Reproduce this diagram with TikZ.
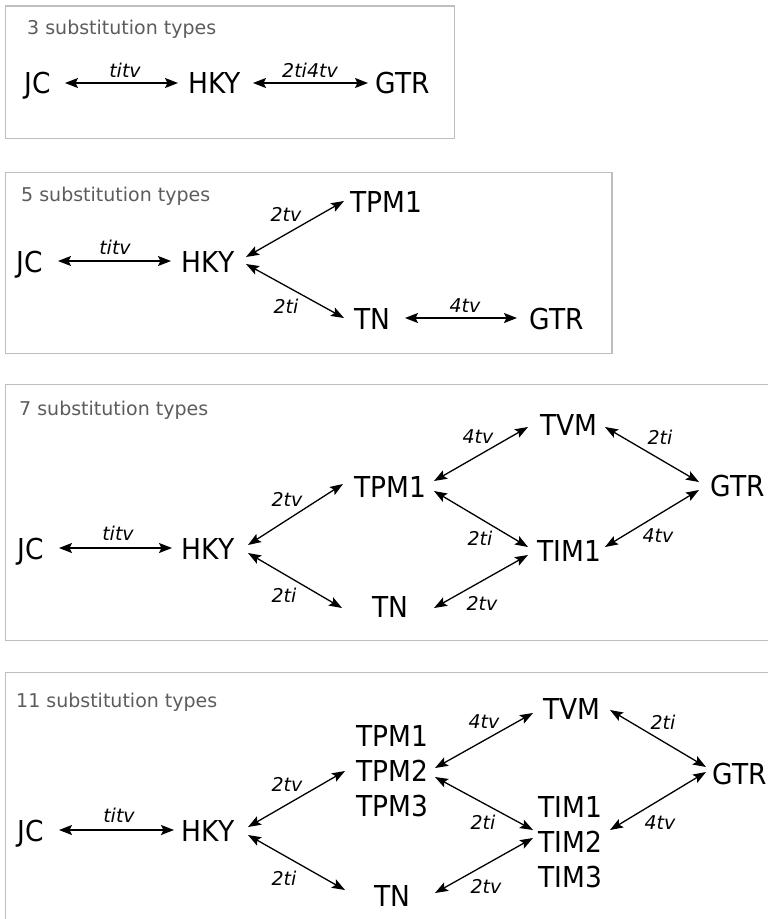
\documentclass[tikz,border=0pt]{standalone}
\usepackage{fontspec}
\setmainfont{DejaVu Sans}
\newfontfamily\modelfont[FakeStretch=0.92]{DejaVu Sans}
\usetikzlibrary{arrows.meta,calc}
\definecolor{framegray}{HTML}{BEBEBE}
\definecolor{titlegray}{HTML}{5C5C5C}
\tikzset{
  panel/.style={draw=framegray, line width=1.5pt},
  model/.style={inner sep=0pt, text height=21pt, text depth=0pt,
    font=\modelfont\fontsize{28.8}{31}\selectfont},
  ptitle/.style={anchor=base west, inner sep=0pt, text=titlegray,
    font=\fontsize{19}{22}\selectfont},
  lbl/.style={inner sep=0pt, font=\fontsize{19}{21}\selectfont\itshape},
  harr/.style={{Stealth[length=13pt,width=10pt,inset=2.5pt]}-{Stealth[length=13pt,width=10pt,inset=2.5pt]}, line width=1.8pt},
  darr/.style={{Stealth[length=13pt,width=9.5pt,inset=2.5pt]}-{Stealth[length=13pt,width=9.5pt,inset=2.5pt]}, line width=1.3pt},
}
\begin{document}
\begin{tikzpicture}[x=1pt, y=-1pt]
\useasboundingbox (0,0) rectangle (768,919);
\clip (0,0) rectangle (768,919);

% ---- frames ----
\draw[panel] (5.5,6) rectangle (454.5,138.5);
\draw[panel] (5.5,172.3) rectangle (612,353.3);
\draw[panel] (5.5,384.7) rectangle (790,640.7);
\draw[panel] (5.5,672.7) rectangle (790,960);

% ---- 3 substitution types ----
\node[ptitle] (t1) at (27,34) {3 substitution types};
\node[model] (jc1) at (37.5,83) {JC};
\node[model] (hky1) at (214.5,83) {HKY};
\node[model] (gtr1) at (403,83) {GTR};
\draw[harr] ($(jc1)+(27.5,0)$) -- ($(hky1)+(-36.5,0)$);
\draw[harr] ($(hky1)+(38.5,0)$) -- ($(gtr1)+(-35,0)$);
\node[lbl] (l1a) at (125,70) {titv};
\node[lbl] (l1b) at (310,70) {2ti4tv};

% ---- 5 substitution types ----
\node[ptitle] (t2) at (21,201) {5 substitution types};
\node[model] (jc2) at (29.5,262) {JC};
\node[model] (hky2) at (208,262) {HKY};
\node[model] (tpm2) at (386.5,202) {TPM1};
\node[model] (tn2) at (372.5,319) {TN};
\node[model] (gtr2) at (556.5,319) {GTR};
\draw[harr] ($(jc2)+(28.5,-1)$) -- ($(hky2)+(-37,-1)$);
\draw[darr] ($(hky2)+(38,-5)$) -- ($(tpm2)+(-42.5,-1)$);
\draw[darr] ($(hky2)+(38,2)$) -- ($(tn2)+(-28.5,-1)$);
\draw[harr] ($(tn2)+(32.5,-1)$) -- ($(gtr2)+(-39.5,-1)$);
\node[lbl] (l2a) at (115,247) {titv};
\node[lbl] (l2b) at (286,214) {2tv};
\node[lbl] (l2c) at (286,306) {2ti};
\node[lbl] (l2d) at (465,306) {4tv};

% ---- 7 substitution types ----
\node[ptitle] (t3) at (19,415) {7 substitution types};
\node[model] (jc3) at (31,549) {JC};
\node[model] (hky3) at (208,549) {HKY};
\node[model] (tpm3) at (390,487) {TPM1};
\node[model] (tn3) at (390,607) {TN};
\node[model] (tvm3) at (569,425) {TVM};
\node[model] (tim3) at (569,551) {TIM1};
\node[model] (gtr3) at (738,486) {GTR};
\draw[harr] ($(jc3)+(28,-1)$) -- ($(hky3)+(-36,-1)$);
\draw[darr] ($(hky3)+(40,-4)$) -- ($(tpm3)+(-47,-3)$);
\draw[darr] ($(hky3)+(40,4)$) -- ($(tn3)+(-48,1)$);
\draw[darr] ($(tpm3)+(44,-6)$) -- ($(tvm3)+(-41,2)$);
\draw[darr] ($(tpm3)+(44,4)$) -- ($(tim3)+(-41,-4)$);
\draw[darr] ($(tn3)+(44,1)$) -- ($(tim3)+(-41,4)$);
\draw[darr] ($(tvm3)+(36,2)$) -- ($(gtr3)+(-39,-4)$);
\draw[darr] ($(tim3)+(36,-4)$) -- ($(gtr3)+(-39,4)$);
\node[lbl] (l3a) at (118,533) {titv};
\node[lbl] (l3b) at (287,499) {2tv};
\node[lbl] (l3c) at (284,595) {2ti};
\node[lbl] (l3d) at (478,437) {4tv};
\node[lbl] (l3e) at (480,538) {2ti};
\node[lbl] (l3f) at (482,603) {2tv};
\node[lbl] (l3g) at (660,437) {2ti};
\node[lbl] (l3h) at (658,536) {4tv};

% ---- 11 substitution types ----
\node[ptitle] (t4) at (16,707) {11 substitution types};
\node[model] (jc4) at (31,831) {JC};
\node[model] (hky4) at (208,831) {HKY};
\node[model] (tpma4) at (392,736) {TPM1};
\node[model] (tpmb4) at (392,771) {TPM2};
\node[model] (tpmc4) at (392,806) {TPM3};
\node[model] (tn4) at (392,896) {TN};
\node[model] (tvm4) at (572,709) {TVM};
\node[model] (tima4) at (570,807) {TIM1};
\node[model] (timb4) at (570,842) {TIM2};
\node[model] (timc4) at (570,877) {TIM3};
\node[model] (gtr4) at (740,774) {GTR};
\draw[harr] ($(jc4)+(28,-1)$) -- ($(hky4)+(-34,-1)$);
\draw[darr] ($(hky4)+(40,-4)$) -- ($(tpmb4)+(-47,0)$);
\draw[darr] ($(hky4)+(40,4)$) -- ($(tn4)+(-47,-6)$);
\draw[darr] ($(tpmb4)+(43,-3)$) -- ($(tvm4)+(-39,4)$);
\draw[darr] ($(tpmb4)+(43,6)$) -- ($(timb4)+(-37,-12)$);
\draw[darr] ($(tn4)+(43,-3)$) -- ($(timb4)+(-37,-4)$);
\draw[darr] ($(tvm4)+(38,1)$) -- ($(gtr4)+(-34,-7)$);
\draw[darr] ($(timb4)+(40,-12)$) -- ($(gtr4)+(-34,-2)$);
\node[lbl] (l4a) at (119,815) {titv};
\node[lbl] (l4b) at (287,784) {2tv};
\node[lbl] (l4c) at (284,878) {2ti};
\node[lbl] (l4d) at (484,722) {4tv};
\node[lbl] (l4e) at (483,822) {2ti};
\node[lbl] (l4f) at (486,886) {2tv};
\node[lbl] (l4g) at (663,722) {2ti};
\node[lbl] (l4h) at (660,823) {4tv};
\end{tikzpicture}
\end{document}
